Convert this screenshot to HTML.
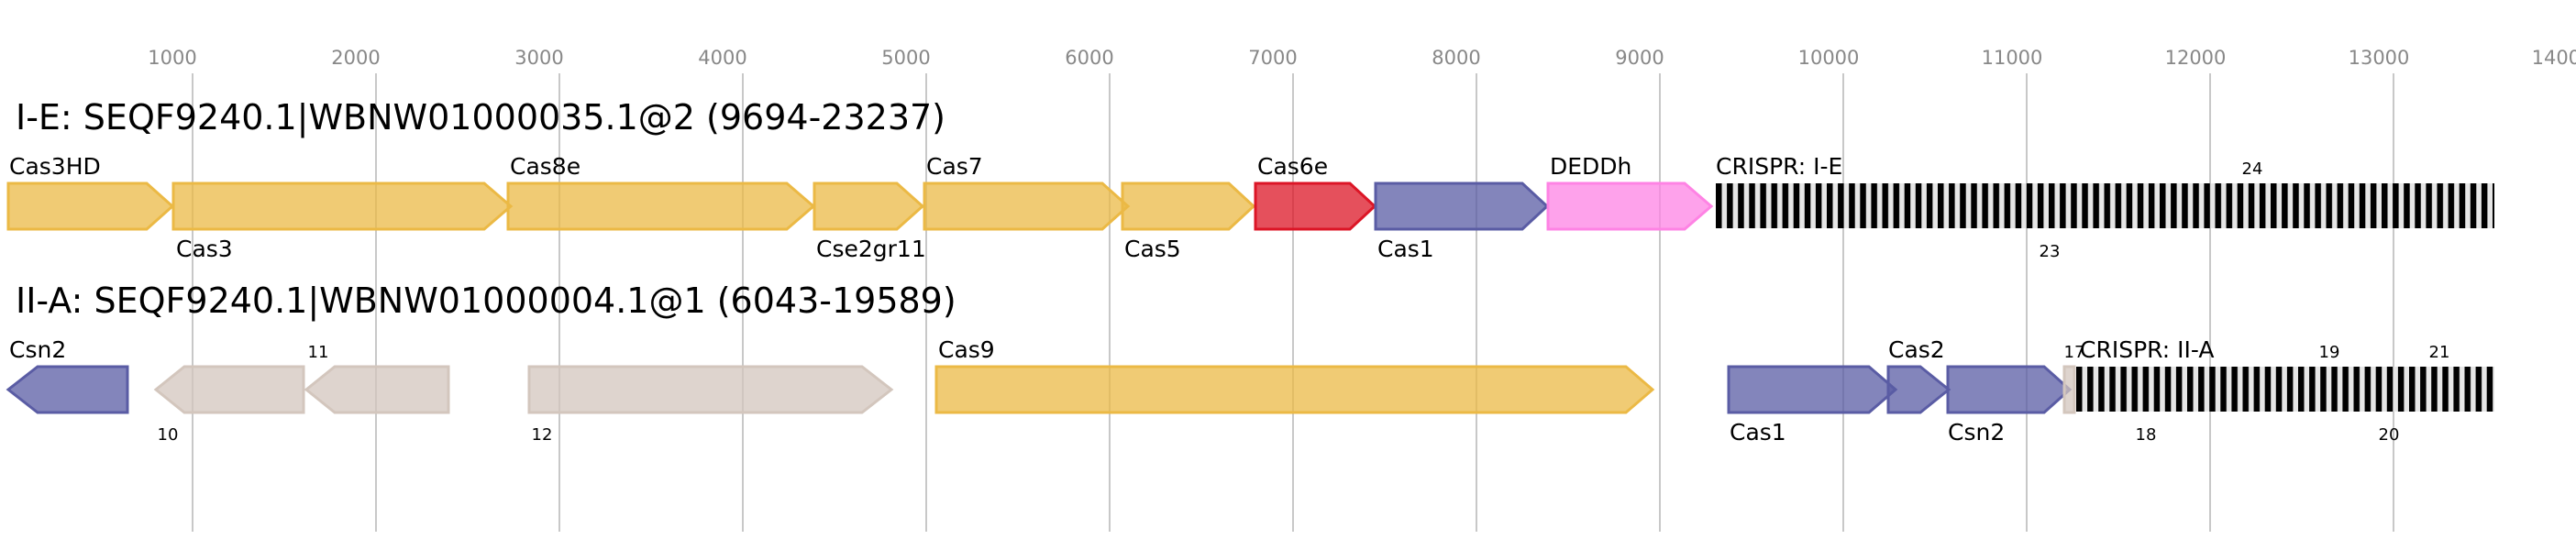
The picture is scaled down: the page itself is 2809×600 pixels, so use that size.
<!DOCTYPE html>
<html><head><meta charset="utf-8"><style>
html,body{margin:0;padding:0;background:#fff;}
svg{display:block;}
text{font-family:"DejaVu Sans","Liberation Sans",sans-serif;}
</style></head><body>
<svg width="2809" height="600" xmlns="http://www.w3.org/2000/svg">
<defs>
<pattern id="cr" x="1871" y="0" width="12.1" height="10" patternUnits="userSpaceOnUse">
<rect x="0" y="0" width="12.1" height="10" fill="#e6e6e6"/>
<rect x="0" y="0" width="6.5" height="10" fill="#000"/>
</pattern>
<pattern id="cr2" x="2264" y="0" width="12.1" height="10" patternUnits="userSpaceOnUse">
<rect x="0" y="0" width="12.1" height="10" fill="#e6e6e6"/>
<rect x="0" y="0" width="6.5" height="10" fill="#000"/>
</pattern>
</defs>
<g fill="#888" font-size="21" text-anchor="middle">
<text x="188" y="70">1000</text><text x="388" y="70">2000</text><text x="588" y="70">3000</text>
<text x="788" y="70">4000</text><text x="988" y="70">5000</text><text x="1188" y="70">6000</text>
<text x="1388" y="70">7000</text><text x="1588" y="70">8000</text><text x="1788" y="70">9000</text>
<text x="1994" y="70">10000</text><text x="2194" y="70">11000</text><text x="2394" y="70">12000</text>
<text x="2594" y="70">13000</text><text x="2794" y="70">14000</text>
</g>
<g stroke="#c8c8c8" stroke-width="2">
<line x1="210" y1="80" x2="210" y2="580"/><line x1="410" y1="80" x2="410" y2="580"/>
<line x1="610" y1="80" x2="610" y2="580"/><line x1="810" y1="80" x2="810" y2="580"/>
<line x1="1010" y1="80" x2="1010" y2="580"/><line x1="1210" y1="80" x2="1210" y2="580"/>
<line x1="1410" y1="80" x2="1410" y2="580"/><line x1="1610" y1="80" x2="1610" y2="580"/>
<line x1="1810" y1="80" x2="1810" y2="580"/><line x1="2010" y1="80" x2="2010" y2="580"/>
<line x1="2210" y1="80" x2="2210" y2="580"/><line x1="2410" y1="80" x2="2410" y2="580"/>
<line x1="2610" y1="80" x2="2610" y2="580"/>
</g>
<text x="17" y="141" font-size="38">I-E: SEQF9240.1|WBNW01000035.1@2 (9694-23237)</text>
<text x="17" y="341" font-size="38">II-A: SEQF9240.1|WBNW01000004.1@1 (6043-19589)</text>
<g stroke-width="3" fill-opacity="0.75">
<g fill="#ebb945" stroke="#ebb945">
<polygon points="9,200 160,200 188,225 160,250 9,250"/>
<polygon points="189,200 528,200 557,225 528,250 189,250"/>
<polygon points="554,200 858,200 887,225 858,250 554,250"/>
<polygon points="888,200 978,200 1006,225 978,250 888,250"/>
<polygon points="1008,200 1202,200 1230,225 1202,250 1008,250"/>
<polygon points="1224,200 1340,200 1367,225 1340,250 1224,250"/>
<polygon points="1021,400 1773,400 1802,425 1773,450 1021,450"/>
</g>
<polygon fill="#dc1526" stroke="#dc1526" points="1369,200 1472,200 1499,225 1472,250 1369,250"/>
<g fill="#5a5ca4" stroke="#5a5ca4">
<polygon points="1500,200 1660,200 1687,225 1660,250 1500,250"/>
<polygon points="139,400 41,400 9,425 41,450 139,450"/>
<polygon points="1885,400 2038,400 2067,425 2038,450 1885,450"/>
<polygon points="2059,400 2094,400 2125,425 2094,450 2059,450"/>
<polygon points="2124,400 2229,400 2257,425 2229,450 2124,450"/>
</g>
<polygon fill="#fe83e4" stroke="#fe83e4" points="1688,200 1837,200 1866,225 1837,250 1688,250"/>
<g fill="#d3c6bd" stroke="#d3c6bd">
<polygon points="331,400 201,400 170,425 201,450 331,450"/>
<polygon points="489,400 365,400 334,425 365,450 489,450"/>
<polygon points="577,400 940,400 972,425 940,450 577,450"/>
<polygon points="2251,400 2262,400 2262,450 2251,450"/>
</g>
</g>
<rect x="1871" y="200" width="849" height="49" fill="url(#cr)"/>
<rect x="2264" y="400" width="456" height="49" fill="url(#cr2)"/>
<g font-size="25" fill="#000">
<text x="10" y="190">Cas3HD</text><text x="192" y="280">Cas3</text>
<text x="556" y="190">Cas8e</text><text x="890" y="280">Cse2gr11</text>
<text x="1010" y="190">Cas7</text><text x="1226" y="280">Cas5</text>
<text x="1371" y="190">Cas6e</text><text x="1502" y="280">Cas1</text>
<text x="1690" y="190">DEDDh</text><text x="1871" y="190">CRISPR: I-E</text>
<text x="10" y="390">Csn2</text><text x="1023" y="390">Cas9</text>
<text x="1886" y="480">Cas1</text><text x="2059" y="390">Cas2</text>
<text x="2124" y="480">Csn2</text>
</g>
<g font-size="18" fill="#000" text-anchor="middle">
<text x="2456" y="190">24</text><text x="2235" y="280">23</text>
<text x="183" y="480">10</text><text x="347" y="390">11</text><text x="591" y="480">12</text>
<text x="2262" y="390">17</text>
<text x="2340" y="480">18</text><text x="2540" y="390">19</text><text x="2605" y="480">20</text><text x="2660" y="390">21</text>
</g>
<text x="2268" y="390" font-size="25" fill="#000">CRISPR: II-A</text>
</svg>
</body></html>
